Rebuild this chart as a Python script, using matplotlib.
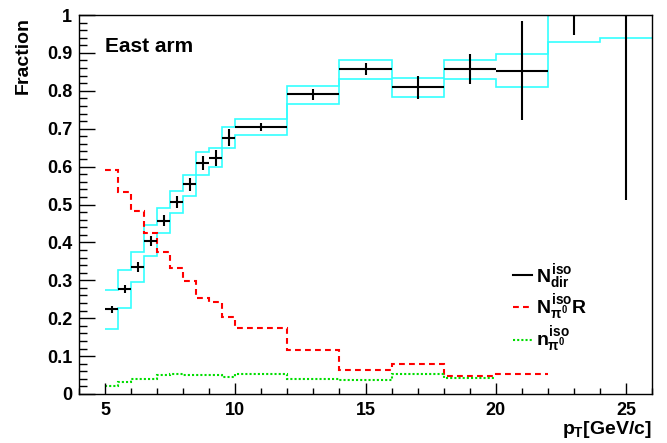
import numpy as np
import matplotlib
matplotlib.use("Agg")
import matplotlib.pyplot as plt
from matplotlib.ticker import MultipleLocator
from matplotlib.lines import Line2D

plt.rcParams['font.family'] = ['Liberation Sans', 'DejaVu Sans']
plt.rcParams['font.weight'] = 'bold'
plt.rcParams['mathtext.fontset'] = 'custom'
plt.rcParams['mathtext.rm'] = 'Liberation Sans:bold'
plt.rcParams['mathtext.it'] = 'Liberation Sans:bold'
plt.rcParams['mathtext.bf'] = 'Liberation Sans:bold'

# ---------------- data ----------------
bin_edges = [5, 5.5, 6, 6.5, 7, 7.5, 8, 8.5, 9, 9.5, 10, 12, 14, 16, 18, 20, 22, 24, 26]

# direct isolated photon fraction (black points)
n_dir = [0.223, 0.277, 0.334, 0.404, 0.457, 0.507, 0.553, 0.609, 0.623, 0.676,
         0.704, 0.791, 0.858, 0.809, 0.857, 0.853, 1.0, 1.0]
n_dir_err = [0.009, 0.011, 0.013, 0.014, 0.015, 0.016, 0.018, 0.019, 0.021, 0.022,
             0.010, 0.015, 0.016, 0.031, 0.040, 0.131, 0.053, 0.488]

# systematic band (cyan)
sys_upper = [0.274, 0.327, 0.374, 0.446, 0.490, 0.536, 0.579, 0.638, 0.649, 0.704,
             0.725, 0.813, 0.882, 0.833, 0.882, 0.896, 1.06, 1.05]
sys_lower = [0.171, 0.228, 0.295, 0.365, 0.426, 0.477, 0.522, 0.578, 0.598, 0.650,
             0.683, 0.766, 0.832, 0.784, 0.830, 0.809, 0.930, 0.939]

# N_pi0^iso R (red dashed), bins 5..22
red_edges = [5, 5.5, 6, 6.5, 7, 7.5, 8, 8.5, 9, 9.5, 10, 12, 14, 16, 18, 20, 22]
n_pi0_R = [0.591, 0.534, 0.483, 0.424, 0.374, 0.333, 0.299, 0.254, 0.242, 0.204,
           0.175, 0.116, 0.064, 0.078, 0.048, 0.052]

# n_pi0^iso (green dotted), bins 5..20
green_edges = [5, 5.5, 6, 6.5, 7, 7.5, 8, 8.5, 9, 9.5, 10, 12, 14, 16, 18, 20]
n_pi0 = [0.022, 0.031, 0.040, 0.040, 0.050, 0.052, 0.050, 0.049, 0.049, 0.046,
         0.052, 0.040, 0.037, 0.052, 0.043]

labels = [r'$N^{iso}_{dir}$', r'$N^{iso}_{\pi^0}R$', r'$n^{iso}_{\pi^0}$']

# ---------------- plot ----------------
fig = plt.figure(figsize=(6.67, 4.43), dpi=100)
ax = fig.add_axes([79/667, 1-394/443, (652-79)/667, (394-15)/443])

edges = np.array(bin_edges)
xc = 0.5*(edges[:-1]+edges[1:])
xw = 0.5*(edges[1:]-edges[:-1])

ax.stairs(sys_upper, edges, baseline=None, color='#33ffff', lw=1.2)
ax.stairs(sys_lower, edges, baseline=None, color='#33ffff', lw=1.2)

red_ls = (0, (2.8, 2.0))
green_ls = (0, (1, 1))
ax.stairs(n_pi0_R, red_edges, baseline=None, color='#ff0000', lw=1.5, linestyle=red_ls)
ax.stairs(n_pi0, green_edges, baseline=None, color='#00dd00', lw=1.5, linestyle=green_ls)

ax.errorbar(xc, n_dir, xerr=xw, yerr=n_dir_err, fmt='none', ecolor='black',
            elinewidth=1.5, capsize=0)

# legend
handles = [Line2D([], [], color='black', lw=1.5),
           Line2D([], [], color='#ff0000', lw=1.5, linestyle=red_ls),
           Line2D([], [], color='#00dd00', lw=1.5, linestyle=green_ls)]
fig.legend(handles, labels, loc='upper left', bbox_to_anchor=(513/667, 1-262/443),
           frameon=False, fontsize=14, handlelength=1.0, handletextpad=0.2,
           labelspacing=0.08, borderaxespad=0, borderpad=0)

ax.set_xlim(4, 26)
ax.set_ylim(0, 1)
ax.xaxis.set_major_locator(MultipleLocator(5))
ax.xaxis.set_minor_locator(MultipleLocator(1))
ax.yaxis.set_minor_locator(MultipleLocator(0.02))
ax.set_yticks(np.arange(0, 1.01, 0.1))
ax.set_yticklabels(['0', '0.1', '0.2', '0.3', '0.4', '0.5', '0.6', '0.7', '0.8', '0.9', '1'])

ax.tick_params(axis='x', which='major', direction='in', length=8, width=1,
               labelsize=13, pad=6, top=False)
ax.tick_params(axis='x', which='minor', direction='in', length=4, width=1, top=False)
ax.tick_params(axis='y', which='major', direction='in', length=11.5, width=1,
               labelsize=13, pad=5, right=False)
ax.tick_params(axis='y', which='minor', direction='in', length=5.8, width=1, right=False)
for lab in ax.get_xticklabels() + ax.get_yticklabels():
    lab.set_fontweight('bold')
for s in ax.spines.values():
    s.set_linewidth(1.0)

ax.text(5.0, 0.902, 'East arm', fontsize=15, fontweight='bold', ha='left', va='baseline')

fig.text(652/667, 1-440/443, r'$p_{T}$[GeV/c]', fontsize=14, fontweight='bold',
         ha='right', va='bottom')
fig.text(23/667, 1-17/443, 'Fraction', fontsize=14, fontweight='bold', rotation=90,
         ha='center', va='top')

fig.savefig('out.png', dpi=100)
